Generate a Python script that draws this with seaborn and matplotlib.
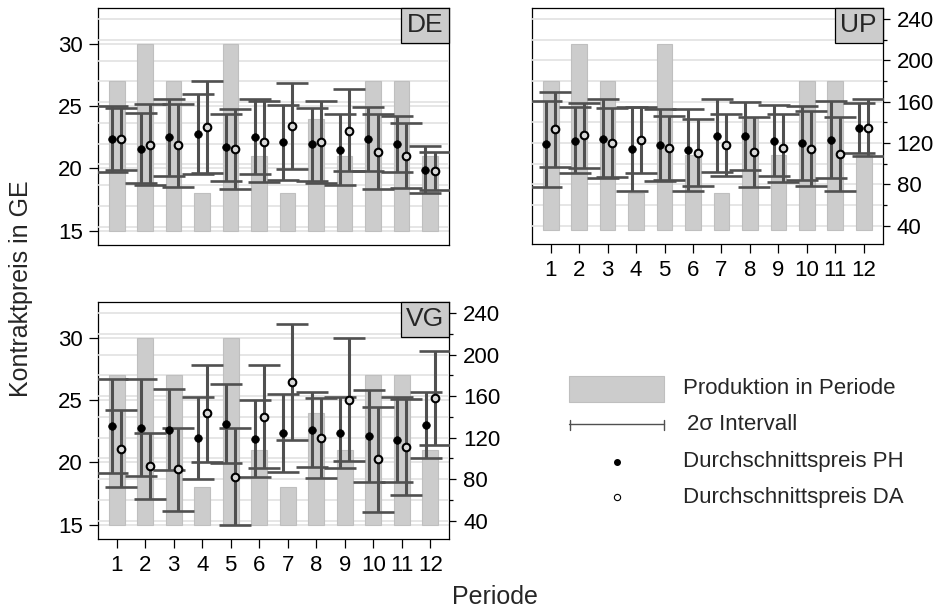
import numpy as np
import pandas as pd
import matplotlib
matplotlib.use("Agg")
import matplotlib.pyplot as plt
from matplotlib.patches import Rectangle
from matplotlib.ticker import MultipleLocator, NullLocator, FixedLocator
import seaborn as sns

# ---------------- data ----------------
periods = [1, 2, 3, 4, 5, 6, 7, 8, 9, 10, 11, 12]
production = [180, 216, 180, 72, 216, 108, 72, 144, 108, 180, 180, 108]

de_ph_mean = [22.35, 21.6, 22.55, 22.8, 21.7, 22.55, 22.1, 21.95, 21.5, 22.35, 22.0, 19.9]
de_ph_lo = [19.7, 18.8, 19.4, 19.55, 19.0, 19.55, 19.1, 19.0, 18.7, 19.8, 19.7, 18.0]
de_ph_hi = [25.0, 24.45, 25.6, 25.95, 24.35, 25.6, 25.1, 24.9, 24.35, 24.95, 24.2, 21.8]
de_da_mean = [22.4, 21.9, 21.85, 23.3, 21.55, 22.15, 23.4, 22.1, 23.05, 21.35, 21.0, 19.8]
de_da_lo = [19.9, 18.65, 18.55, 19.65, 18.35, 18.9, 19.95, 18.85, 19.8, 18.35, 18.45, 18.25]
de_da_hi = [24.85, 25.2, 25.2, 27.0, 24.8, 25.45, 26.9, 25.45, 26.4, 24.4, 23.65, 21.35]

up_ph_mean = [118.7, 122.3, 124.2, 113.9, 118.1, 113.2, 127.1, 126.5, 122.3, 120.0, 122.9, 134.5]
up_ph_lo = [77.1, 91.0, 85.8, 73.2, 82.9, 73.5, 91.6, 93.9, 88.1, 84.2, 86.1, 110.6]
up_ph_hi = [161.0, 154.8, 162.9, 154.8, 153.2, 153.2, 162.6, 159.4, 156.8, 155.8, 160.6, 158.7]
up_da_mean = [133.2, 127.7, 120.3, 122.6, 115.5, 110.6, 118.1, 111.3, 115.2, 114.5, 109.7, 134.8]
up_da_lo = [97.1, 96.1, 86.8, 91.3, 84.2, 78.1, 88.4, 77.1, 81.9, 78.1, 73.5, 107.4]
up_da_hi = [169.0, 158.7, 154.2, 154.8, 146.5, 143.5, 147.7, 145.2, 148.1, 151.0, 145.5, 162.6]

vg_ph_mean = [22.93, 22.8, 22.63, 21.94, 23.09, 21.88, 22.37, 22.63, 22.39, 22.1, 21.8, 22.98]
vg_ph_lo = [19.15, 18.9, 19.4, 18.64, 19.93, 18.8, 19.26, 19.6, 19.58, 18.43, 18.43, 20.33]
vg_ph_hi = [26.75, 26.73, 25.88, 25.23, 26.3, 25.02, 25.53, 25.66, 25.23, 25.82, 25.23, 25.69]
vg_da_mean = [21.08, 19.69, 19.47, 23.97, 18.86, 23.68, 26.47, 21.94, 25.02, 20.25, 21.24, 25.15]
vg_da_lo = [18.0, 17.04, 16.13, 20.04, 15.0, 19.58, 21.8, 18.75, 20.09, 15.99, 17.38, 21.43]
vg_da_hi = [24.2, 22.34, 22.8, 27.86, 22.74, 27.83, 31.13, 25.15, 30.0, 24.48, 25.1, 28.93]

left_ticks = [15, 20, 25, 30]
right_ticks = [40, 80, 120, 160, 200, 240]
right_minor_ticks = [60, 100, 140, 180, 220]
panel_names = ["DE", "UP", "VG"]
legend_labels = ["Produktion in Periode", "2\u03c3 Intervall",
                 "Durchschnittspreis PH", "Durchschnittspreis DA"]

# ---------------- style ----------------
sns.set_theme(style="white")
plt.rcParams['font.family'] = ['Liberation Sans', 'DejaVu Sans']
plt.rcParams['axes.edgecolor'] = 'black'
plt.rcParams['xtick.color'] = 'black'
plt.rcParams['ytick.color'] = 'black'

W, H = 940, 613
fig = plt.figure(figsize=(W / 100, H / 100), dpi=100)


def rect(x0, y0, x1, y1):
    return [x0 / W, 1 - y1 / H, (x1 - x0) / W, (y1 - y0) / H]


def to_right(v):
    return 12 * np.asarray(v) - 144


def to_left(v):
    return (np.asarray(v) + 144) / 12


LEFT_LIM = (13.85, 32.9)
RIGHT_LIM = (float(to_right(LEFT_LIM[0])), float(to_right(LEFT_LIM[1])))
XLIM = (0.333, 12.667)
BAR_BASE = 36
GRID_C = '#e2e2e2'
ERR_C = '#505050'
TICK_FS = 16

panels = [
    dict(name=panel_names[0], rect=(97.7, 8, 449, 245), unit='left', lab_left=True, lab_right=False, xt=False,
         d=(de_ph_mean, de_ph_lo, de_ph_hi, de_da_mean, de_da_lo, de_da_hi)),
    dict(name=panel_names[1], rect=(531.7, 8, 882.7, 244), unit='right', lab_left=False, lab_right=True, xt=True,
         d=(up_ph_mean, up_ph_lo, up_ph_hi, up_da_mean, up_da_lo, up_da_hi)),
    dict(name=panel_names[2], rect=(97.7, 302, 449.3, 539), unit='left', lab_left=True, lab_right=True, xt=True,
         d=(vg_ph_mean, vg_ph_lo, vg_ph_hi, vg_da_mean, vg_da_lo, vg_da_hi)),
]

for p in panels:
    x0, y0, x1, y1 = p['rect']
    r = rect(x0, y0, x1, y1)
    ax = fig.add_axes(r)                                           # back: left units
    ax2 = fig.add_axes(r, sharex=ax, label=p['name'] + '_bars')    # middle: right units
    ax3 = fig.add_axes(r, sharex=ax, label=p['name'] + '_front')   # front: prices
    for a in (ax2, ax3):
        a.patch.set_visible(False)
        a.xaxis.set_visible(False)
        for s in a.spines.values():
            s.set_visible(False)

    # ---- back axis
    ax.set_facecolor('white')
    ax.set_xlim(XLIM)
    ax.set_ylim(LEFT_LIM)
    ax.set_xticks(periods)
    ax.set_xticklabels([str(v) for v in periods])
    ax.xaxis.grid(False)
    ax.set_axisbelow(True)
    for s in ax.spines.values():
        s.set_color('black')
        s.set_linewidth(0.9)
    if p['lab_left']:
        ax.set_yticks(left_ticks)
        ax.yaxis.grid(True, color=GRID_C, lw=1.2)
        ax.tick_params(axis='y', left=True, labelleft=True, right=False, labelright=False,
                       length=6.5, width=0.9, pad=4, labelsize=TICK_FS, direction='out')
    else:
        ax.yaxis.set_major_locator(NullLocator())
        ax.yaxis.set_minor_locator(NullLocator())
        ax.yaxis.grid(False)
    if p['xt']:
        ax.tick_params(axis='x', bottom=True, labelbottom=True, length=6.5, width=0.9,
                       pad=5, labelsize=TICK_FS, direction='out')
    else:
        ax.tick_params(axis='x', bottom=False, labelbottom=False)

    # ---- right-unit scale (tick labels only where shown)
    if p['lab_right']:
        sec = ax.secondary_yaxis('right', functions=(to_right, to_left))
        sec.yaxis.set_major_locator(FixedLocator(right_ticks))
        sec.yaxis.set_minor_locator(FixedLocator(right_minor_ticks))
        sec.spines['right'].set_visible(False)
        sec.tick_params(axis='y', which='major', length=5, width=0.9, pad=5,
                        labelsize=TICK_FS, direction='out', color='black')
        sec.tick_params(axis='y', which='minor', length=3, width=0.9, direction='out',
                        color='black')

    # ---- middle axis: grid (right units) + production bars
    ax2.set_ylim(RIGHT_LIM)
    ax2.yaxis.set_major_locator(MultipleLocator(20))
    ax2.yaxis.grid(True, which='major', color=GRID_C, lw=1.2)
    ax2.tick_params(axis='y', which='both', length=0, labelleft=False, labelright=False)
    ax2.set_axisbelow(True)
    ax2.bar(periods, [v - BAR_BASE for v in production], bottom=BAR_BASE, width=0.55,
            color='#cccccc', edgecolor='#bfbfbf', linewidth=0.8, zorder=2)

    # ---- front axis: intervals and mean prices
    ph_m, ph_l, ph_h, da_m, da_l, da_h = [np.array(a) for a in p['d']]
    xs = np.array(periods, dtype=float)
    for off, m, lo, hi in [(-0.16, ph_m, ph_l, ph_h), (0.16, da_m, da_l, da_h)]:
        ax3.errorbar(xs + off, m, yerr=[m - lo, hi - m], fmt='none', ecolor=ERR_C,
                     elinewidth=2.2, capsize=11.5, capthick=1.9, zorder=3)
    df = pd.DataFrame({'x': np.concatenate([xs - 0.16, xs + 0.16]),
                       'y': np.concatenate([ph_m, da_m]),
                       'typ': ['PH'] * 12 + ['DA'] * 12})
    sns.scatterplot(data=df[df.typ == 'PH'], x='x', y='y', ax=ax3, color='black', s=30,
                    edgecolor='black', linewidth=0.5, zorder=4, legend=False)
    sns.scatterplot(data=df[df.typ == 'DA'], x='x', y='y', ax=ax3, facecolor='#d8d8d8', s=30,
                    edgecolor='black', linewidth=1.5, zorder=4, legend=False)
    ax3.set_xlabel('')
    ax3.set_ylabel('')
    ax3.set_ylim(LEFT_LIM if p['unit'] == 'left' else RIGHT_LIM)
    ax3.set_xlim(XLIM)
    ax3.yaxis.set_visible(False)

    # panel label box
    bw = 48 / (x1 - x0)
    bh = 35 / (y1 - y0)
    ax3.add_patch(Rectangle((1 - bw, 1 - bh), bw, bh, transform=ax3.transAxes,
                            facecolor='#cccccc', edgecolor='black', lw=0.9, zorder=6, clip_on=False))
    ax3.text(1 - bw / 2, 1 - bh / 2, p['name'], transform=ax3.transAxes, ha='center',
             va='center', fontsize=19, zorder=7)

# axis titles
fig.text(21 / W, 1 - 289 / H, "Kontraktpreis in GE", rotation=90, ha='center', va='center', fontsize=18)
fig.text(495 / W, 1 - 597 / H, "Periode", ha='center', va='center', fontsize=18)

# legend (drawn in pixel coordinates)
axl = fig.add_axes([0, 0, 1, 1], label='legend')
axl.set_xlim(0, W)
axl.set_ylim(H, 0)
axl.axis('off')
axl.patch.set_visible(False)
axl.add_patch(Rectangle((569, 375.5), 95, 26, facecolor='#cccccc', edgecolor='#bfbfbf', lw=0.8))
axl.plot([569, 664], [424.3, 424.3], color=ERR_C, lw=1.0)
axl.plot([569.5, 569.5], [419.5, 429.5], color=ERR_C, lw=1.0)
axl.plot([663.5, 663.5], [419.5, 429.5], color=ERR_C, lw=1.0)
axl.plot([617], [462], marker='o', ms=4, color='black', mec='black')
axl.plot([617], [497], marker='o', ms=4.5, mfc='white', mec='black', mew=0.8)
leg_y = [389, 424, 462, 497]
leg_x = [683, 687, 683, 683]
for lbl, lx, ly in zip(legend_labels, leg_x, leg_y):
    axl.text(lx, ly, lbl, ha='left', va='center', fontsize=16)

fig.savefig("out.png", dpi=100)
